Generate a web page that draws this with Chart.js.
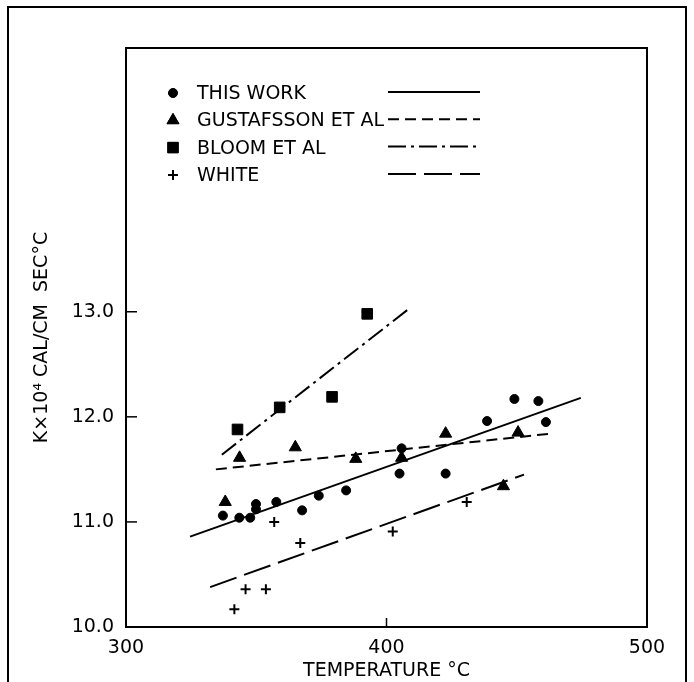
<!DOCTYPE html>
<html>
<head>
<meta charset="utf-8">
<script src="https://cdn.jsdelivr.net/npm/chart.js@4/dist/chart.umd.min.js"></script>
<style>
  html, body { margin: 0; padding: 0; background: #fff; }
  #wrap { width: 694px; height: 682px; position: relative; }
</style>
</head>
<body>
<div id="wrap"><canvas id="chart" width="694" height="682"></canvas></div>
<script>
// Thermal conductivity vs temperature
const thisWorkT = [337.2, 343.5, 347.7, 349.9, 349.9, 357.7, 367.6, 374.0, 384.5, 405.0, 405.8, 422.7, 438.6, 449.1, 458.3, 461.2];
const thisWorkK = [11.06, 11.04, 11.04, 11.17, 11.12, 11.19, 11.11, 11.25, 11.30, 11.46, 11.70, 11.46, 11.96, 12.17, 12.15, 11.95];

const gustT = [338.1, 343.6, 365.0, 388.2, 405.8, 422.7, 444.9, 450.5];
const gustK = [11.19, 11.61, 11.71, 11.60, 11.61, 11.84, 11.34, 11.85];

const bloomT = [342.8, 359.0, 379.1, 392.6];
const bloomK = [11.88, 12.09, 12.19, 12.98];

const whiteT = [341.6, 345.9, 353.7, 356.9, 366.9, 402.4, 430.8];
const whiteK = [10.17, 10.36, 10.36, 11.00, 10.80, 10.91, 11.19];

// fitted lines (end points)
const thisWorkFitT = [324.6, 474.6];
const thisWorkFitK = [10.86, 12.18];
const gustFitT = [334.5, 463.0];
const gustFitK = [11.50, 11.84];
const bloomFitT = [336.8, 409.2];
const bloomFitK = [11.64, 13.04];
const whiteFitT = [332.3, 452.8];
const whiteFitK = [10.38, 11.45];

const xTicks = [300, 400, 500];
const yTicks = [10, 11, 12, 13];

const FONT = "'DejaVu Sans', sans-serif";
const pairs = (xs, ys) => xs.map((x, i) => ({ x: x, y: ys[i] }));

// legend rows: marker + text + line style
const legendRows = [
    { label: 'THIS WORK', style: 'circle', radius: 4.5, dash: [] },
    { label: 'GUSTAFSSON ET AL', style: 'triangle', radius: 7, dash: [11, 6] },
    { label: 'BLOOM ET AL', style: 'rect', radius: 7.5, dash: [18, 5, 3, 5] },
    { label: 'WHITE', style: 'cross', radius: 5, dash: [28, 8] }
];

function scatter(label, data, style, radius) {
    return {
        type: 'scatter', label: label, data: data,
        pointStyle: style, pointRadius: radius, pointHoverRadius: radius,
        backgroundColor: '#000', borderColor: '#000',
        borderWidth: style === 'cross' ? 2 : 1
    };
}
function fit(data, dash) {
    return {
        type: 'line', data: data, borderColor: '#000', borderWidth: 2,
        borderDash: dash, pointRadius: 0, fill: false, tension: 0
    };
}

// frame, inside ticks, outer box and legend
const decor = {
    id: 'decor',
    afterDraw(chart) {
        const ctx = chart.ctx;
        const a = chart.chartArea;
        const xs = chart.scales.x, ys = chart.scales.y;
        ctx.save();
        ctx.strokeStyle = '#000';
        ctx.lineWidth = 2;
        // outer box (bottom edge is cut off)
        ctx.beginPath();
        ctx.moveTo(8, 690); ctx.lineTo(8, 7); ctx.lineTo(686, 7); ctx.lineTo(686, 690);
        ctx.stroke();
        // plot frame
        ctx.strokeRect(a.left, a.top, a.right - a.left, a.bottom - a.top);
        // ticks pointing inward
        ctx.lineWidth = 1.5;
        yTicks.forEach(v => {
            const y = ys.getPixelForValue(v);
            ctx.beginPath(); ctx.moveTo(a.left, y); ctx.lineTo(a.left + 11, y); ctx.stroke();
        });
        xTicks.forEach(v => {
            const x = xs.getPixelForValue(v);
            ctx.beginPath(); ctx.moveTo(x, a.bottom); ctx.lineTo(x, a.bottom - 9); ctx.stroke();
        });
        // legend
        ctx.font = '19px ' + FONT;
        ctx.fillStyle = '#000';
        ctx.textBaseline = 'middle';
        legendRows.forEach((r, i) => {
            const y = 93 + i * 27.3;
            ctx.lineWidth = r.style === 'cross' ? 2 : 1;
            ctx.setLineDash([]);
            Chart.helpers.drawPoint(ctx, { pointStyle: r.style, radius: r.radius, borderWidth: ctx.lineWidth }, 173, y);
            if (r.style !== 'cross') ctx.fill();
            ctx.fillText(r.label, 197, y + 1);
            ctx.lineWidth = 2;
            ctx.setLineDash(r.dash);
            ctx.beginPath(); ctx.moveTo(388, y - 1); ctx.lineTo(480, y - 1); ctx.stroke();
        });
        ctx.restore();
    }
};

new Chart(document.getElementById('chart'), {
    data: {
        datasets: [
            scatter('THIS WORK', pairs(thisWorkT, thisWorkK), 'circle', 4.5),
            scatter('GUSTAFSSON ET AL', pairs(gustT, gustK), 'triangle', 7),
            scatter('BLOOM ET AL', pairs(bloomT, bloomK), 'rect', 7.5),
            scatter('WHITE', pairs(whiteT, whiteK), 'cross', 5),
            fit(pairs(thisWorkFitT, thisWorkFitK), []),
            fit(pairs(gustFitT, gustFitK), [11, 6]),
            fit(pairs(bloomFitT, bloomFitK), [18, 5, 3, 5]),
            fit(pairs(whiteFitT, whiteFitK), [28, 8])
        ]
    },
    options: {
        responsive: false,
        animation: false,
        layout: { padding: { top: 48, right: 47, left: 0, bottom: 0 } },
        plugins: { legend: { display: false }, tooltip: { enabled: false } },
        scales: {
            x: {
                type: 'linear', min: 300, max: 500,
                afterFit: s => { s.height = 55; },
                afterBuildTicks: s => { s.ticks = xTicks.map(v => ({ value: v })); },
                ticks: { color: '#000', font: { family: FONT, size: 19 }, padding: 10, maxRotation: 0 },
                grid: { display: false, drawTicks: false },
                border: { display: false },
                title: { display: true, text: 'TEMPERATURE °C', color: '#000',
                         font: { family: FONT, size: 19 }, padding: { top: 0, bottom: 0 } }
            },
            y: {
                type: 'linear', min: 10, max: 15.51,
                afterFit: s => { s.width = 126; },
                afterBuildTicks: s => { s.ticks = yTicks.map(v => ({ value: v })); },
                ticks: { color: '#000', font: { family: FONT, size: 19 }, padding: 12,
                         callback: v => v.toFixed(1) },
                grid: { display: false, drawTicks: false },
                border: { display: false },
                title: { display: true, text: 'K×10⁴ CAL/CM  SEC°C', color: '#000',
                         font: { family: FONT, size: 19 }, padding: { top: 31, bottom: 0 } }
            }
        }
    },
    plugins: [decor]
});
</script>
</body>
</html>
